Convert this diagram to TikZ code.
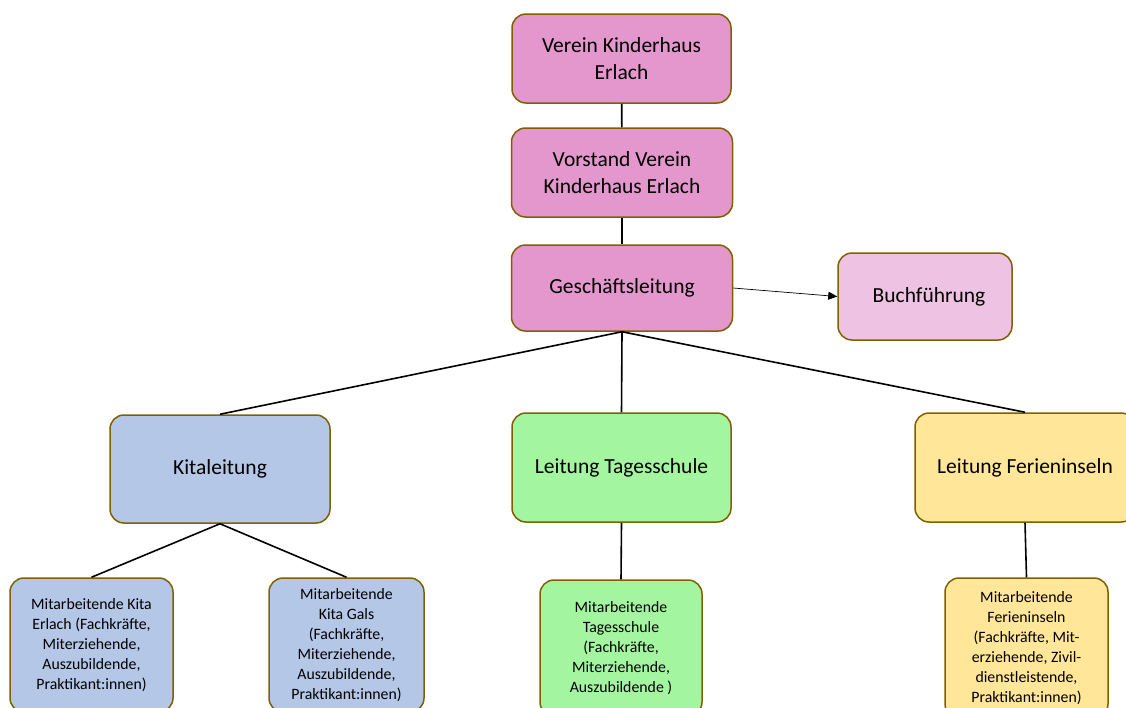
\documentclass[tikz,border=0pt]{standalone}
\usepackage{fontspec}
\setmainfont{Carlito}
\usetikzlibrary{arrows.meta}
\definecolor{orgpink}{HTML}{E397CD}
\definecolor{orglightpink}{HTML}{EEC2E3}
\definecolor{orgblue}{HTML}{B4C7E7}
\definecolor{orggreen}{HTML}{A3F5A0}
\definecolor{orgyellow}{HTML}{FFE699}
\definecolor{orgborder}{HTML}{7F6000}
\tikzset{
  orgbox/.style={draw=orgborder, line width=1.5pt, rounded corners=14pt, align=center,
    inner sep=2pt, font=\fontsize{21.5}{27}\selectfont},
  staffbox/.style={orgbox, font=\fontsize{15.8}{20}\selectfont},
  link/.style={line width=1.6pt}
}
\begin{document}
\begin{tikzpicture}[x=1pt, y=-1pt]
\useasboundingbox (0,0) rectangle (1126,707);
% leadership
\node[orgbox, fill=orgpink, minimum width=219pt, minimum height=89pt] (verein) at (621.5,58.5) {Verein Kinderhaus\\Erlach};
\node[orgbox, fill=orgpink, minimum width=221pt, minimum height=89pt] (vorstand) at (622,172.5) {Vorstand Verein\\Kinderhaus Erlach};
\node[orgbox, fill=orgpink, minimum width=221pt, minimum height=86pt] (gl) at (622,288) {Geschäftsleitung};
\node[orgbox, fill=orglightpink, minimum width=174pt, minimum height=87pt] (buch) at (925,296.5) {\hspace{8pt}Buchführung};

% departments
\node[orgbox, fill=orgblue, minimum width=220pt, minimum height=108pt] (kita) at (220,469) {Kitaleitung};
\node[orgbox, fill=orggreen, minimum width=219pt, minimum height=109pt] (tagi) at (621.5,467.5) {Leitung Tagesschule};
\node[orgbox, fill=orgyellow, minimum width=220pt, minimum height=109pt] (ferien) at (1025,467.5) {Leitung Ferieninseln};

% staff
\node[staffbox, fill=orgblue, minimum width=163pt, minimum height=134pt] (staffkita) at (91.5,645) {Mitarbeitende Kita\\Erlach (Fachkräfte,\\Miterziehende,\\Auszubildende,\\Praktikant:innen)};
\node[staffbox, fill=orgblue, minimum width=155pt, minimum height=134pt] (staffgals) at (346.5,645) {Mitarbeitende\\Kita Gals\\ (Fachkräfte,\\Miterziehende,\\Auszubildende,\\Praktikant:innen)};
\node[staffbox, fill=orggreen, minimum width=162pt, minimum height=136pt] (stafftagi) at (621,648) {Mitarbeitende\\Tagesschule\\ (Fachkräfte,\\Miterziehende,\\Auszubildende )};
\node[staffbox, fill=orgyellow, minimum width=163pt, minimum height=140pt] (staffferien) at (1026.5,648) {Mitarbeitende\\Ferieninseln\\(Fachkräfte, Mit-\\erziehende, Zivil-\\dienstleistende,\\Praktikant:innen)};

% connectors
\draw[link] (verein) -- (vorstand);
\draw[link] (vorstand) -- (gl);
\draw[-{Triangle[length=9pt, width=8pt]}, line width=0.7pt] (gl.east) -- (buch.west);
\draw[link] (gl.south) -- (kita.north);
\draw[link] (gl.south) -- (tagi.north);
\draw[link] (gl.south) -- (ferien.north);
\draw[link] (kita.south) -- (staffkita.north);
\draw[link] (kita.south) -- (staffgals.north);
\draw[link] (tagi.south) -- (stafftagi.north);
\draw[link] (ferien.south) -- (staffferien.north);
\end{tikzpicture}
\end{document}
